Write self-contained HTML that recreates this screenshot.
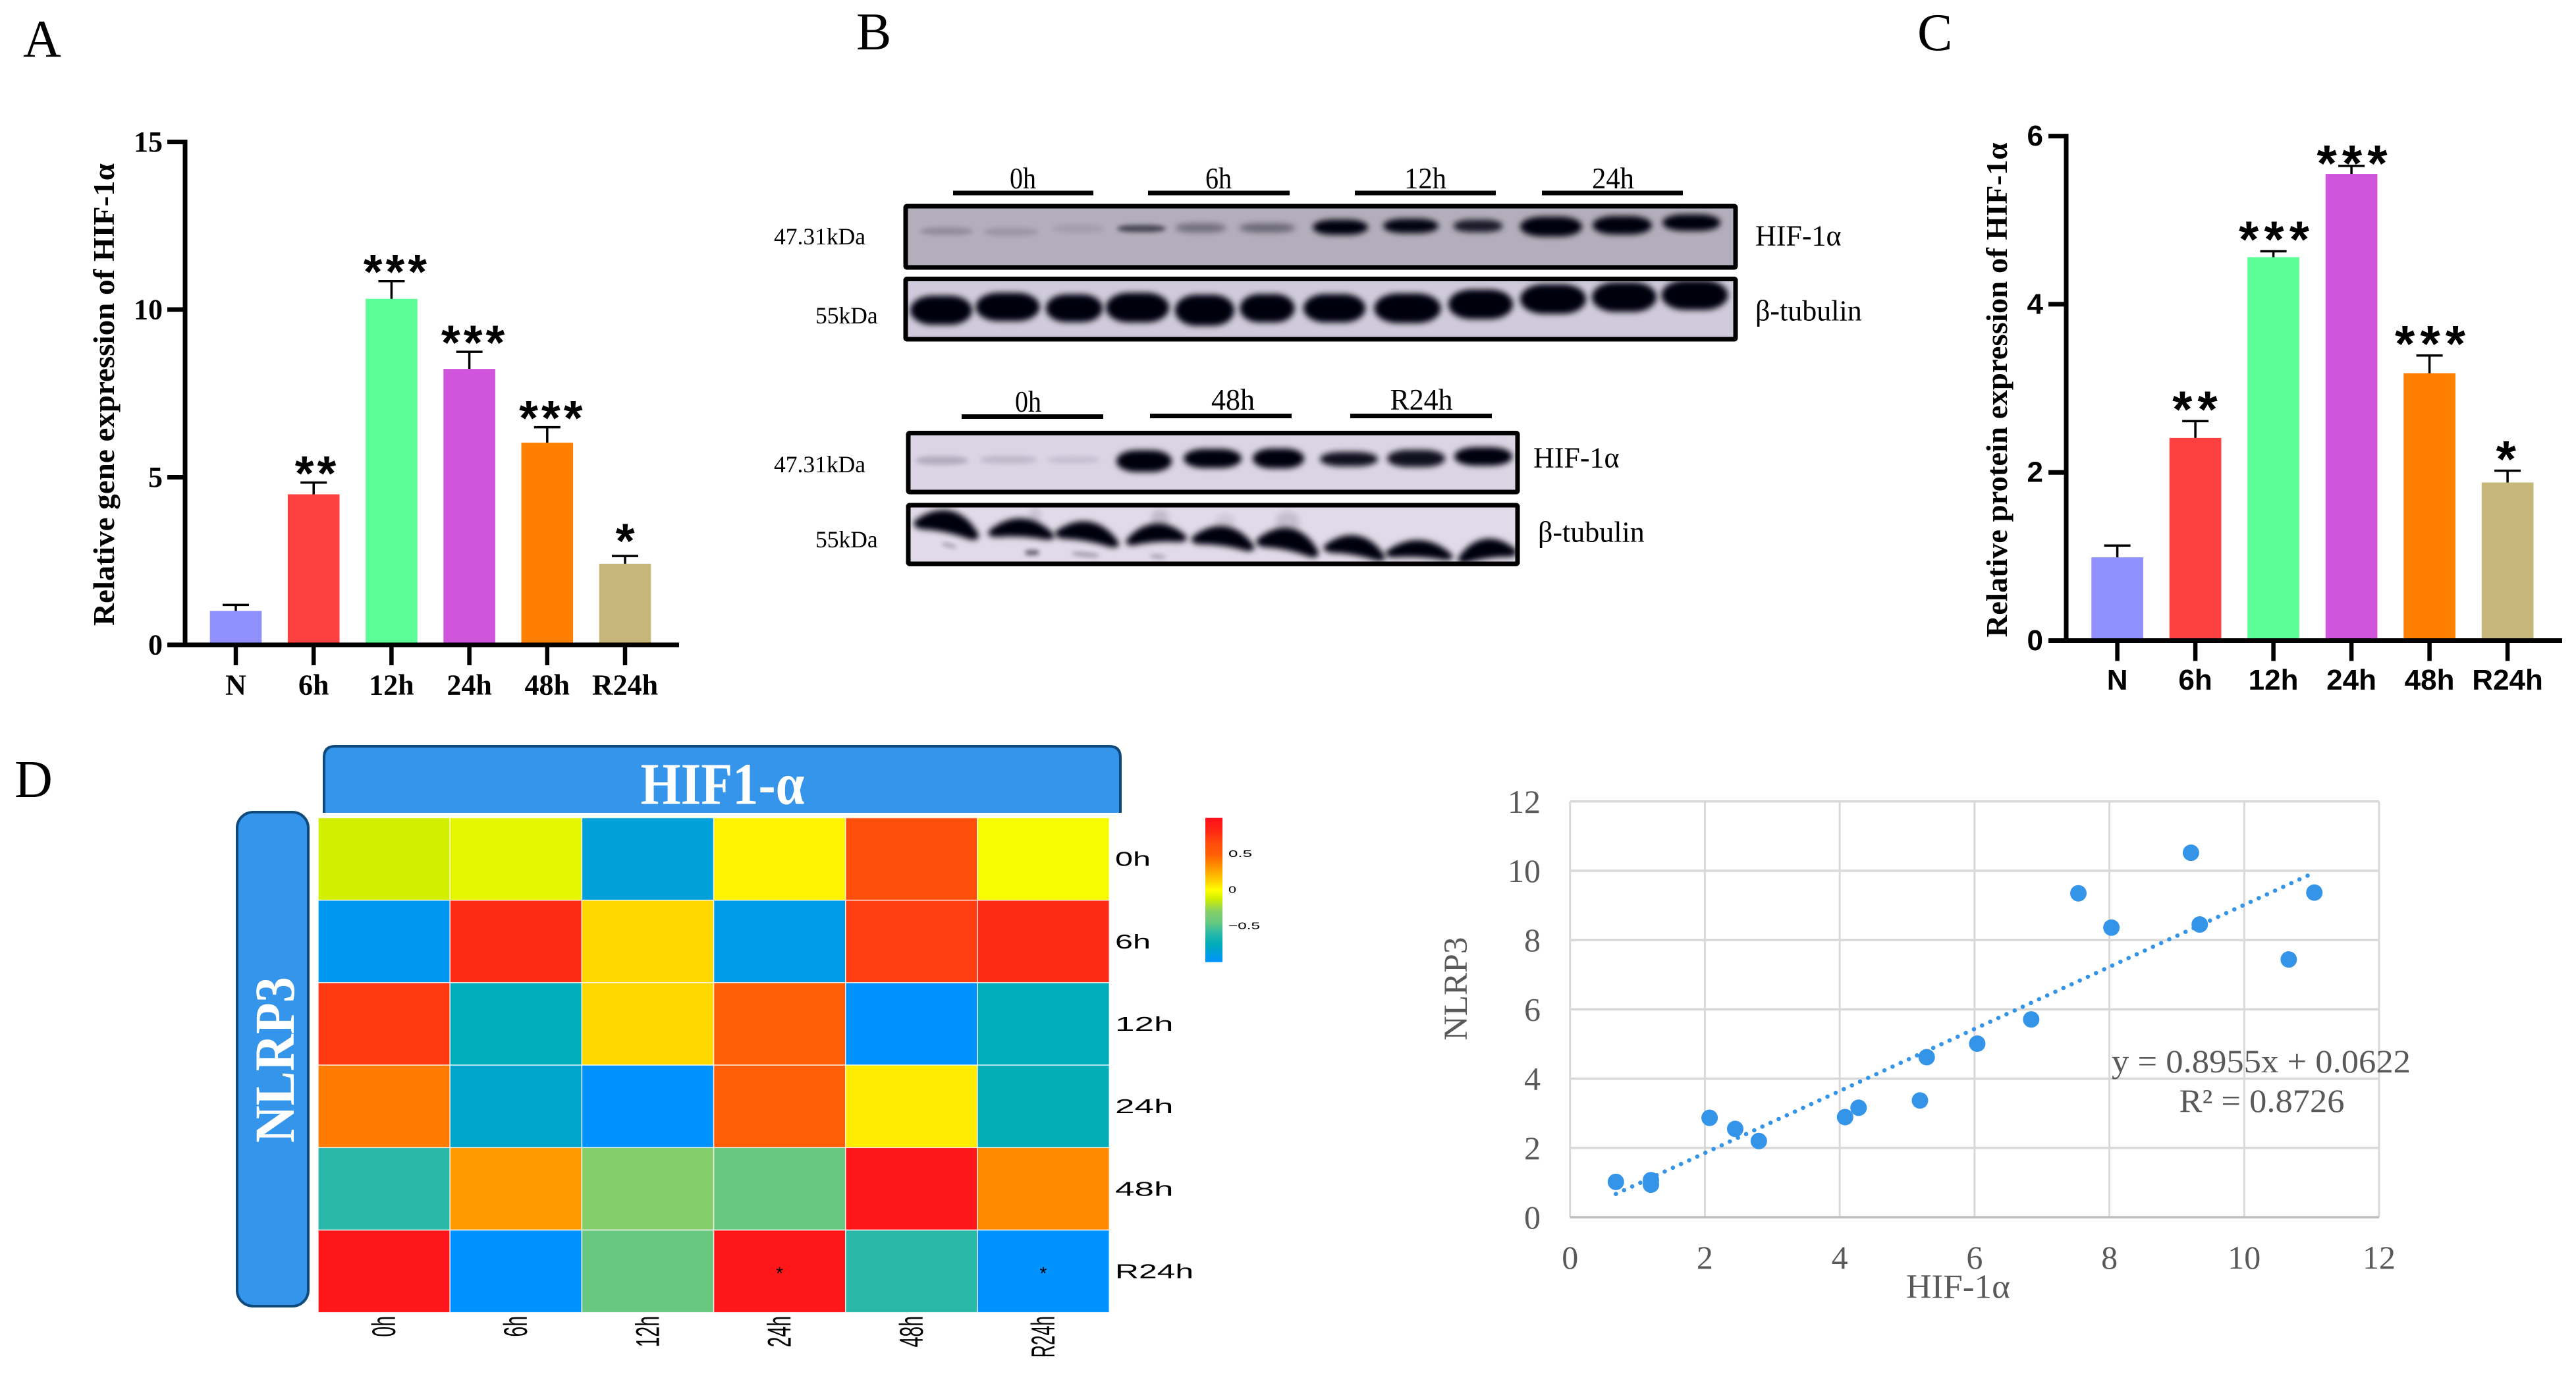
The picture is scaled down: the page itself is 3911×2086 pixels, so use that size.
<!DOCTYPE html>
<html lang="en">
<head>
<meta charset="utf-8">
<title>HIF-1α and NLRP3 expression figure</title>
<style>
html,body{margin:0;padding:0;background:#fff;}
svg{display:block;}
.serif{font-family:"Liberation Serif",serif;}
.sans{font-family:"Liberation Sans",sans-serif;}
</style>
</head>
<body>
<svg id="fig" xmlns="http://www.w3.org/2000/svg" width="3911" height="2086" viewBox="0 0 3911 2086">
<defs>
<filter id="blur3" x="-30%" y="-100%" width="160%" height="300%"><feGaussianBlur stdDeviation="3.5"/></filter>
<filter id="blur5" x="-30%" y="-80%" width="160%" height="260%"><feGaussianBlur stdDeviation="4.5"/></filter>
<linearGradient id="cbGrad" x1="0" y1="1" x2="0" y2="0"></linearGradient>
</defs>
<rect x="0" y="0" width="3911" height="2086" fill="#fff"/>

<!-- Panel letters -->
<g class="serif" fill="#000" font-size="80">
<text x="35" y="86">A</text>
<text x="1300" y="75">B</text>
<text x="2911" y="76">C</text>
<text x="22" y="1210">D</text>
</g>

<g id="panelA"></g>
<g id="panelC"></g>

<!-- Panel B: western blots -->
<g id="panelB" class="serif" fill="#000">
<g font-size="45" text-anchor="middle">
<text x="1553" y="271" dominant-baseline="central" textLength="40" lengthAdjust="spacingAndGlyphs">0h</text>
<text x="1850" y="271" dominant-baseline="central" textLength="40" lengthAdjust="spacingAndGlyphs">6h</text>
<text x="2164" y="271" dominant-baseline="central" textLength="64" lengthAdjust="spacingAndGlyphs">12h</text>
<text x="2449" y="271" dominant-baseline="central" textLength="64" lengthAdjust="spacingAndGlyphs">24h</text>
<text x="1561" y="610" dominant-baseline="central" textLength="40" lengthAdjust="spacingAndGlyphs">0h</text>
<text x="1872" y="607" dominant-baseline="central" textLength="66" lengthAdjust="spacingAndGlyphs">48h</text>
<text x="2158" y="607" dominant-baseline="central" textLength="95" lengthAdjust="spacingAndGlyphs">R24h</text>
</g>
<g>
<rect x="1447" y="289.500" width="213" height="7"/>
<rect x="1743" y="289.500" width="215" height="7"/>
<rect x="2057" y="289.500" width="214" height="7"/>
<rect x="2341" y="289.500" width="214" height="7"/>
<rect x="1460" y="629" width="215" height="7"/>
<rect x="1746" y="628" width="215" height="7"/>
<rect x="2050" y="628" width="215" height="7"/>
</g>
<g id="blots"></g>
<g font-size="35.500">
<text x="1175" y="359" dominant-baseline="central">47.31kDa</text>
<text x="1238" y="479" dominant-baseline="central">55kDa</text>
<text x="1175" y="705" dominant-baseline="central">47.31kDa</text>
<text x="1238" y="819" dominant-baseline="central">55kDa</text>
</g>
<g font-size="44">
<text x="2665" y="358" dominant-baseline="central">HIF-1α</text>
<text x="2665" y="472" dominant-baseline="central">β-tubulin</text>
<text x="2328" y="695" dominant-baseline="central">HIF-1α</text>
<text x="2335" y="808" dominant-baseline="central">β-tubulin</text>
</g>
</g>

<!-- Panel D: headers -->
<g>
<path d="M492 1234 V1150 Q492 1133 509 1133 H1684 Q1701 1133 1701 1150 V1234" fill="#3595EB" stroke="#0E4A7C" stroke-width="4"/>
<text class="serif" x="1097" y="1191" font-size="90" font-weight="bold" fill="#fff" text-anchor="middle" dominant-baseline="central" textLength="249" lengthAdjust="spacingAndGlyphs">HIF1-α</text>
<rect x="360" y="1233" width="108" height="750" rx="24" ry="24" fill="#3595EB" stroke="#0E4A7C" stroke-width="4"/>
<text class="serif" transform="translate(417 1609) rotate(-90)" x="0" y="0" font-size="86" font-weight="bold" fill="#fff" text-anchor="middle" dominant-baseline="central" textLength="252" lengthAdjust="spacingAndGlyphs">NLRP3</text>
</g>
<g id="heatmap"></g>
<g id="scatter"></g>
</svg>

<script>
/* ---------- Panel A data ---------- */
var barCategories = ['N', '6h', '12h', '24h', '48h', 'R24h'];
var barColors = ['#9190FF', '#FF4040', '#5CFF97', '#D155DC', '#FF8000', '#C6B679'];
var barStars = ['', '**', '***', '***', '***', '*'];
var geneMeans = [1.01, 4.49, 10.32, 8.23, 6.03, 2.42];
var geneErrors = [0.18, 0.35, 0.53, 0.51, 0.46, 0.23];
var geneTicks = [0, 5, 10, 15];
/* ---------- Panel C data ---------- */
var proteinMeans = [0.99, 2.41, 4.56, 5.55, 3.18, 1.88];
var proteinErrors = [0.14, 0.20, 0.07, 0.095, 0.21, 0.14];
var proteinTicks = [0, 2, 4, 6];
/* ---------- Heatmap data ---------- */
var heatColumns = ['0h', '6h', '12h', '24h', '48h', 'R24h'];
var heatRows = ['0h', '6h', '12h', '24h', '48h', 'R24h'];
var heatRow0h = [-0.12, -0.07, -0.87, 0.03, 0.65, -0.02];
var heatRow6h = [-0.95, 0.8, 0.1, -0.92, 0.72, 0.8];
var heatRow12h = [0.74, -0.75, 0.1, 0.5, -1, -0.75];
var heatRow24h = [0.4, -0.82, -1, 0.5, 0.05, -0.74];
var heatRow48h = [-0.6, 0.3, -0.3, -0.45, 0.95, 0.35];
var heatRowR24h = [0.95, -1, -0.45, 0.95, -0.6, -1];
var heatMarksRow = ['', '', '', '*', '', '*'];
var colorStopValues = [-1, -0.75, -0.6, -0.45, -0.3, -0.12, 0, 0.1, 0.3, 0.4, 0.5, 0.65, 0.8, 1];
var colorStopColors = ['#0092FF', '#00ADB8', '#2AB9A8', '#68C880', '#84CF6A', '#D2EF00', '#FFFF00', '#FFD800', '#FF9A00', '#FF7A00', '#FF5E06', '#FF4D0C', '#FF2A14', '#FF0F1A'];
var colorbarTicks = [0.5, 0, -0.5];
var colorbarLabels = ['0.5', '0', '\u22120.5'];
/* ---------- Scatter data ---------- */
var scatterX = [0.68, 1.2, 1.2, 2.07, 2.45, 2.8, 4.08, 4.28, 5.19, 5.29, 6.04, 6.84, 7.54, 8.03, 9.21, 9.34, 10.66, 11.04];
var scatterY = [1.02, 1.07, 0.94, 2.87, 2.55, 2.2, 2.89, 3.16, 3.37, 4.62, 5.01, 5.71, 9.35, 8.36, 10.52, 8.45, 7.44, 9.37];
var scatterXTicks = [0, 2, 4, 6, 8, 10, 12];
var scatterYTicks = [0, 2, 4, 6, 8, 10, 12];
var trendSlope = [0.8955];
var trendIntercept = [0.0622];
var trendRange = [0.68, 10.97];
var equationLines = ['y = 0.8955x + 0.0622', 'R\u00B2 = 0.8726'];

var NS = 'http://www.w3.org/2000/svg';
function mk(parent, tag, attrs, text) {
  var el = document.createElementNS(NS, tag);
  for (var k in attrs) { el.setAttribute(k, attrs[k]); }
  if (text !== undefined) { el.textContent = text; }
  parent.appendChild(el);
  return el;
}

/* Shared bar chart drawing */
function drawBars(root, cfg) {
  var el;
  function y(v) { return cfg.y0 - (v / cfg.max) * (cfg.y0 - cfg.yTop); }
  function x(i) { return cfg.x0 + i * cfg.step; }
  barCategories.forEach(function (c, i) {
    el = mk(root, 'rect', { x: x(i) - cfg.barW / 2, y: y(cfg.means[i]), width: cfg.barW, height: cfg.y0 - y(cfg.means[i]), fill: barColors[i] });
    
    
    var top = y(cfg.means[i] + cfg.errors[i]);
    el = mk(root, 'line', { x1: x(i), x2: x(i), y1: top, y2: y(cfg.means[i]), stroke: '#000', 'stroke-width': 3.5 });
    
    
    el = mk(root, 'line', { x1: x(i) - 20, x2: x(i) + 20, y1: top, y2: top, stroke: '#000', 'stroke-width': 3.5 });
    
    
    if (barStars[i]) {
      var starN = barStars[i].length;
      var starCy = Math.max(top - cfg.starGap - (starN === 1 ? cfg.singleExtra : 0), cfg.starMinY);
      el = mk(root, 'text', { x: x(i) + cfg.starDx * starN / 3, y: starCy + cfg.starFont * 0.56, 'text-anchor': 'middle', 'font-family': '"Liberation Sans",sans-serif', 'font-weight': 'bold', 'font-size': cfg.starFont, 'letter-spacing': cfg.starSpacing }, barStars[i]);
      
      
    }
    el = mk(root, 'line', { x1: x(i), x2: x(i), y1: cfg.y0, y2: cfg.y0 + 31, stroke: '#000', 'stroke-width': 6.500 });
    
    
    el = mk(root, 'text', { x: x(i), y: cfg.y0 + cfg.labelDy, 'text-anchor': 'middle', 'dominant-baseline': 'central', 'font-family': cfg.tickFont, 'font-weight': 'bold', 'font-size': 44 }, c);
    
    
  });
  cfg.ticks.forEach(function (t) {
    el = mk(root, 'line', { x1: cfg.axisX - 27, x2: cfg.axisX, y1: y(t), y2: y(t), stroke: '#000', 'stroke-width': 7 });
    
    
    el = mk(root, 'text', { x: cfg.labelRight, y: y(t), 'text-anchor': 'end', 'dominant-baseline': 'central', 'font-family': cfg.tickFont, 'font-weight': 'bold', 'font-size': 44 }, String(t));
    
    
  });
  el = mk(root, 'line', { x1: cfg.axisX, x2: cfg.axisX, y1: cfg.yTop - 3.5, y2: cfg.y0 + 3.5, stroke: '#000', 'stroke-width': 7 });
  
  
  el = mk(root, 'line', { x1: cfg.axisX - 27, x2: cfg.xEnd, y1: cfg.y0, y2: cfg.y0, stroke: '#000', 'stroke-width': 7 });
  
  
  el = mk(root, 'text', { transform: 'translate(' + cfg.titleX + ' ' + cfg.titleY + ') rotate(-90)', 'text-anchor': 'middle', 'dominant-baseline': 'central', 'font-family': '"Liberation Serif",serif', 'font-weight': 'bold', 'font-size': 45, textLength: cfg.titleLen, lengthAdjust: 'spacingAndGlyphs' }, cfg.title);
  
  
}

drawBars(document.getElementById('panelA'), {
  means: geneMeans, errors: geneErrors, ticks: geneTicks, max: 15,
  y0: 979, yTop: 215.5, x0: 358, step: 118.2, barW: 78.6, axisX: 281, xEnd: 1031,
  labelRight: 247, labelDy: 61, tickFont: '"Liberation Serif",serif',
  starDx: 8, starGap: 30, singleExtra: 9, starMinY: 0, starFont: 74, starSpacing: 5,
  title: 'Relative gene expression of HIF-1\u03B1', titleX: 158, titleY: 599, titleLen: 702
});
drawBars(document.getElementById('panelC'), {
  means: proteinMeans, errors: proteinErrors, ticks: proteinTicks, max: 6,
  y0: 972.5, yTop: 206.6, x0: 3214.6, step: 118.5, barW: 78.7, axisX: 3137, xEnd: 3890,
  labelRight: 3102, labelDy: 60, tickFont: '"Liberation Sans",sans-serif',
  starDx: 5, starGap: 35, singleExtra: 0, starMinY: 231, starFont: 78, starSpacing: 8,
  title: 'Relative protein expression of HIF-1\u03B1', titleX: 3032, titleY: 592, titleLen: 751
});

/* ---------- Blots ---------- */
var blotG = document.getElementById('blots');
function bandDome(b) {
  /* rounded dome-shaped band outline in local coordinates */
  var w = b[2], h = b[3];
  return 'M' + (-w / 2) + ' ' + (h * 0.25) +
    ' C' + (-w * 0.4) + ' ' + (-h * 0.1) + ' ' + (-w * 0.22) + ' ' + (-h * 0.5) + ' 0 ' + (-h * 0.5) +
    ' C' + (w * 0.22) + ' ' + (-h * 0.5) + ' ' + (w * 0.4) + ' ' + (-h * 0.1) + ' ' + (w / 2) + ' ' + (h * 0.25) +
    ' Q' + (w * 0.52) + ' ' + (h * 0.55) + ' ' + (w * 0.34) + ' ' + (h * 0.5) +
    ' Q0 ' + (h * 0.36) + ' ' + (-w * 0.34) + ' ' + (h * 0.5) +
    ' Q' + (-w * 0.52) + ' ' + (h * 0.55) + ' ' + (-w / 2) + ' ' + (h * 0.25) + ' Z';
}
function drawBlot(name, box, bg, bands) {
  var g = mk(blotG, 'g', {});
  
  
  var clipId = 'clip-' + name;
  var defs = document.querySelector('defs');
  var cp = mk(defs, 'clipPath', { id: clipId });
  mk(cp, 'rect', { x: box[0], y: box[1], width: box[2] - box[0], height: box[3] - box[1] });
  var inner = mk(g, 'g', { 'clip-path': 'url(#' + clipId + ')' });
  mk(inner, 'rect', { x: box[0], y: box[1], width: box[2] - box[0], height: box[3] - box[1], fill: bg });
  bands.forEach(function (b) {
    var band;
    var flt = b[3] < 14 ? 'url(#blur3)' : 'url(#blur5)';
    if (b[6]) {
      band = mk(inner, 'path', { d: bandDome(b), fill: '#05030a', opacity: b[4], filter: flt,
        transform: 'translate(' + b[0] + ' ' + b[1] + ') rotate(' + (b[5] || 0) + ')' });
    } else {
      band = mk(inner, 'rect', {
        x: b[0] - b[2] / 2, y: b[1] - b[3] / 2, width: b[2], height: b[3],
        rx: b[2] * 0.36, ry: b[3] / 2, fill: '#05030a', opacity: b[4],
        filter: flt,
        transform: 'rotate(' + (b[5] || 0) + ' ' + b[0] + ' ' + b[1] + ')'
      });
    }
    
    
  });
  var frame = mk(g, 'rect', { x: box[0], y: box[1], width: box[2] - box[0], height: box[3] - box[1], fill: 'none', stroke: '#000', 'stroke-width': 7, rx: 2 });
  
  
}
var bandsHifUpper = [[1437,351,80,12,.18],[1535,352,82,13,.12],[1637,347,78,13,.08],[1733,347,74,11,.6],[1823,346,77,14,.36],[1924,346,85,14,.4],[2035,345,84,23,1],[2142,343,84,22,.98],[2244,343,75,19,.85],[2355,344,94,30,1],[2463,342,90,28,1],[2568,338,88,25,1]];
var bandsTubUpper = [[1429,471,94,44,1],[1530,466,97,43,1],[1631,468,86,42,1],[1727,467,96,45,1],[1829,471,90,47,1],[1924,468,83,43,1],[2026,468,94,43,1],[2137,468,101,45,1],[2248,462,98,45,1],[2358,454,100,45,1],[2466,451,98,45,1],[2573,448,101,45,1]];
var bandsHifLower = [[1430,699,80,13,.18],[1531,698,86,12,.12],[1630,698,80,11,.09],[1737,700,84,33,1],[1841,696,88,29,1],[1941,696,78,30,1],[2048,697,88,22,.92],[2150,696,88,26,.92],[2252,693,88,28,1]];
var bandsTubLower = [[1439,793,100,36,1,12,1],[1551,802,100,30,1,3,1],[1652,808,98,32,1,10,1],[1755,810,92,30,1,-4,1],[1858,815,96,32,1,8,1],[1957,820,96,36,1,12,1],[2058,829,94,32,1,10,1],[2155,834,102,28,1,3,1],[2257,834,90,32,1,-8,1],[1441,828,22,5,.3,15],[1567,839,22,8,.55,0],[1648,842,42,6,.3,5],[1758,845,24,6,.25,5],[1571,783,18,24,.1],[1761,788,26,28,.14],[1955,793,36,32,.12],[1860,792,30,22,.08]];
drawBlot('hif-blot-upper', [1375, 313, 2635, 406], '#B3AEBC', bandsHifUpper);
drawBlot('tubulin-blot-upper', [1375, 423.500, 2635, 515], '#CFCADC', bandsTubUpper);
drawBlot('hif-blot-lower', [1379, 657.500, 2304, 747], '#DAD4E5', bandsHifLower);
drawBlot('tubulin-blot-lower', [1379, 767, 2304, 856], '#E0DAE9', bandsTubLower);

/* ---------- Heatmap ---------- */
var heatG = document.getElementById('heatmap');
var heatValues = [heatRow0h, heatRow6h, heatRow12h, heatRow24h, heatRow48h, heatRowR24h];
function hexToRgb(h) { return [parseInt(h.substr(1, 2), 16), parseInt(h.substr(3, 2), 16), parseInt(h.substr(5, 2), 16)]; }
function colorScale(v) {
  var n = colorStopValues.length;
  if (v <= colorStopValues[0]) return colorStopColors[0];
  if (v >= colorStopValues[n - 1]) return colorStopColors[n - 1];
  for (var i = 1; i < n; i++) {
    if (v <= colorStopValues[i]) {
      var t = (v - colorStopValues[i - 1]) / (colorStopValues[i] - colorStopValues[i - 1]);
      var a = hexToRgb(colorStopColors[i - 1]), b = hexToRgb(colorStopColors[i]);
      return 'rgb(' + Math.round(a[0] + (b[0] - a[0]) * t) + ',' + Math.round(a[1] + (b[1] - a[1]) * t) + ',' + Math.round(a[2] + (b[2] - a[2]) * t) + ')';
    }
  }
}
function heatX(i) { return 483 + i * 200.2; }
function heatY(j) { return 1241.5 + j * 125.2; }
function cbY(v) { return 1351.2 - v * 109.5; }
heatValues.forEach(function (row, j) {
  row.forEach(function (v, i) {
    var cell = mk(heatG, 'rect', { x: heatX(i), y: heatY(j), width: 200.2, height: 125.2, fill: colorScale(v), stroke: '#fff', 'stroke-opacity': .8, 'stroke-width': 1.5 });
    
    
  });
});
heatMarksRow.forEach(function (m, i) {
  if (m) {
    var mark = mk(heatG, 'text', { x: heatX(i) + 100, y: heatY(5) + 75, 'text-anchor': 'middle', 'font-family': '"Liberation Sans",sans-serif', 'font-size': 28 }, m);
    
    
  }
});
heatRows.forEach(function (r, j) {
  var lab = mk(heatG, 'text', { x: 1693, y: heatY(j) + 62.6, 'dominant-baseline': 'central', 'font-family': '"Liberation Sans",sans-serif', 'font-size': 31, textLength: r.length * 29.5 + (r.length > 3 ? 1 : (r.length > 2 ? 0 : -5)), lengthAdjust: 'spacingAndGlyphs' }, r);
  
  
});
heatColumns.forEach(function (c, i) {
  var lab = mk(heatG, 'text', { transform: 'translate(' + (heatX(i) + 100) + ' 1998) rotate(-90)', 'text-anchor': 'end', 'dominant-baseline': 'central', 'font-family': '"Liberation Sans",sans-serif', 'font-size': 50, textLength: c.length * 15.8, lengthAdjust: 'spacingAndGlyphs' }, c);
  
  
});
var grad = document.getElementById('cbGrad');
colorStopValues.forEach(function (v, i) {
  mk(grad, 'stop', { offset: ((v + 1) / 2 * 100) + '%', 'stop-color': colorStopColors[i] });
});
var cb = mk(heatG, 'rect', { x: 1830, y: cbY(1), width: 26, height: cbY(-1) - cbY(1), fill: 'url(#cbGrad)' });


colorbarTicks.forEach(function (t, i) {
  var lab = mk(heatG, 'text', { x: 1865, y: cbY(t), 'dominant-baseline': 'central', 'font-family': '"Liberation Sans",sans-serif', 'font-size': 15, textLength: colorbarLabels[i].length * 12, lengthAdjust: 'spacingAndGlyphs' }, colorbarLabels[i]);
  
  
});

/* ---------- Scatter ---------- */
var sc = document.getElementById('scatter');
function sx(v) { return 2383.7 + v * 102.36; }
function sy(v) { return 1848 - v * 52.6; }
scatterXTicks.forEach(function (t) {
  var g = mk(sc, 'line', { x1: sx(t), x2: sx(t), y1: sy(12), y2: sy(0), stroke: '#D9D9D9', 'stroke-width': 3 });
  
  
  var l = mk(sc, 'text', { x: sx(t), y: 1909, 'text-anchor': 'middle', 'dominant-baseline': 'central', 'font-family': '"Liberation Serif",serif', 'font-size': 50, fill: '#595959' }, String(t));
  
  
});
scatterYTicks.forEach(function (t) {
  var g = mk(sc, 'line', { x1: sx(0), x2: sx(12), y1: sy(t), y2: sy(t), stroke: t === 0 ? '#BFBFBF' : '#D9D9D9', 'stroke-width': 3.5 });
  
  
  var l = mk(sc, 'text', { x: 2339, y: sy(t), 'text-anchor': 'end', 'dominant-baseline': 'central', 'font-family': '"Liberation Serif",serif', 'font-size': 50, fill: '#595959' }, String(t));
  
  
});
var trend = mk(sc, 'line', { x1: sx(trendRange[0]), y1: sy(trendSlope[0] * trendRange[0] + trendIntercept[0]), x2: sx(trendRange[1]), y2: sy(trendSlope[0] * trendRange[1] + trendIntercept[0]), stroke: '#3494E8', 'stroke-width': 6.5, 'stroke-linecap': 'round', 'stroke-dasharray': '0.1 13.5' });


scatterX.forEach(function (x, i) {
  var p = mk(sc, 'circle', { cx: sx(x), cy: sy(scatterY[i]), r: 12.5, fill: '#3494E8' });
  
  
});
var eq1 = mk(sc, 'text', { x: 3433, y: 1611, 'text-anchor': 'middle', 'dominant-baseline': 'central', 'font-family': '"Liberation Serif",serif', 'font-size': 50, fill: '#595959', textLength: 454, lengthAdjust: 'spacingAndGlyphs' }, equationLines[0]);


var eq2 = mk(sc, 'text', { x: 3434, y: 1671, 'text-anchor': 'middle', 'dominant-baseline': 'central', 'font-family': '"Liberation Serif",serif', 'font-size': 50, fill: '#595959', textLength: 251, lengthAdjust: 'spacingAndGlyphs' }, equationLines[1]);


var xt = mk(sc, 'text', { x: 2973, y: 1954, 'text-anchor': 'middle', 'dominant-baseline': 'central', 'font-family': '"Liberation Serif",serif', 'font-size': 52, fill: '#595959', textLength: 158, lengthAdjust: 'spacingAndGlyphs' }, 'HIF-1\u03B1');


var yt = mk(sc, 'text', { transform: 'translate(2211 1501) rotate(-90)', 'text-anchor': 'middle', 'dominant-baseline': 'central', 'font-family': '"Liberation Serif",serif', 'font-size': 51, fill: '#595959', textLength: 157, lengthAdjust: 'spacingAndGlyphs' }, 'NLRP3');


</script>
</body>
</html>
